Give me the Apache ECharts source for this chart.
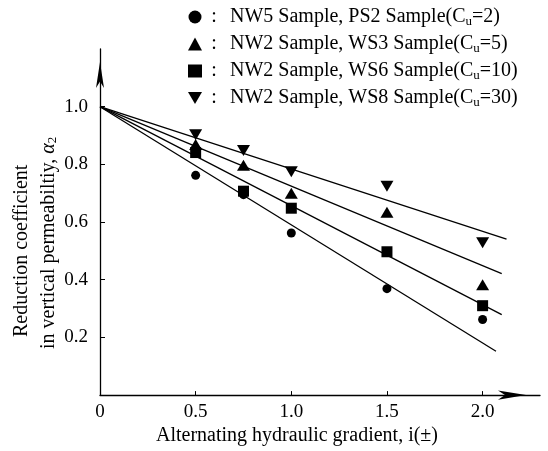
<!DOCTYPE html>
<html>
<head>
<meta charset="utf-8">
<script src="https://cdn.jsdelivr.net/npm/echarts@6/dist/echarts.min.js"></script>
<style>html,body{margin:0;padding:0;background:#fff}#c{width:548px;height:451px}</style>
</head>
<body>
<div id="c"></div>
<script>
// ---- data ----
var xTickValues = [0.5, 1.0, 1.5, 2.0];
var xLabelValues = [0, 0.5, 1.0, 1.5, 2.0];
var yTickValues = [0.2, 0.4, 0.6, 0.8, 1.0];

var seriesNames = ['NW5 Sample, PS2 Sample', 'NW2 Sample, WS3 Sample', 'NW2 Sample, WS6 Sample', 'NW2 Sample, WS8 Sample'];
var cuValues = [2, 5, 10, 30];

var gradient = [0.5, 0.75, 1.0, 1.5, 2.0];
var ps2 = [0.762, 0.695, 0.562, 0.369, 0.262];
var ws3 = [0.869, 0.797, 0.700, 0.634, 0.383];
var ws6 = [0.841, 0.707, 0.648, 0.497, 0.310];
var ws8 = [0.903, 0.848, 0.774, 0.724, 0.528];

// fitted straight lines: [start, end]
var fitPS2 = [[0, 1.0], [2.07, 0.152]];
var fitWS3 = [[0, 1.0], [2.10, 0.421]];
var fitWS6 = [[0, 1.0], [2.10, 0.279]];
var fitWS8 = [[0, 1.0], [2.125, 0.541]];

// ---- chart ----
var FONT = '"Liberation Serif", "DejaVu Serif", serif';
var INK = '#000';
function pairs(xs, ys) { return xs.map(function (x, i) { return [x, ys[i]]; }); }
function legendLabel(i) {
  return '{c|:}{t0|' + seriesNames[i] + '(C}{s|u}{t|=' + cuValues[i] + ')}';
}
var DOWN_TRI = 'path://M0,0L2,0L1,1.7Z';
var symbolDefs = [
  { symbol: 'circle', size: 9 },
  { symbol: 'triangle', size: [13, 11] },
  { symbol: 'rect', size: 11 },
  { symbol: DOWN_TRI, size: [13, 11] }
];
var values = [ps2, ws3, ws6, ws8];
var fits = [fitPS2, fitWS3, fitWS6, fitWS8];

var series = [];
fits.forEach(function (f, i) {
  series.push({
    type: 'line', name: 'fit' + i, data: f, symbol: 'none', silent: true,
    lineStyle: { color: INK, width: 1.3 }, z: 2
  });
});
values.forEach(function (v, i) {
  series.push({
    type: 'scatter', name: seriesNames[i], data: pairs(gradient, v),
    symbol: symbolDefs[i].symbol, symbolSize: symbolDefs[i].size,
    itemStyle: { color: INK, opacity: 1 }, z: 3
  });
});

var chart = echarts.init(document.getElementById('c'), null, { renderer: 'canvas' });
chart.setOption({
  animation: false,
  backgroundColor: '#fff',
  textStyle: { fontFamily: FONT, color: INK },
  grid: { left: 100, right: 8, top: 49, bottom: 54, containLabel: false },
  legend: {
    orient: 'vertical', left: 188, top: 6, padding: 0,
    itemWidth: 14, itemHeight: 13, itemGap: 5,
    data: seriesNames,
    formatter: function (name) { return legendLabel(seriesNames.indexOf(name)); },
    itemStyle: { opacity: 1 },
    textStyle: {
      fontFamily: FONT, color: INK, fontSize: 20, lineHeight: 22,
      rich: {
        c: { fontFamily: FONT, fontSize: 20, width: 14, align: 'center', color: INK },
        t0: { fontFamily: FONT, fontSize: 20, color: INK, padding: [0, 0, 0, 9] },
        t: { fontFamily: FONT, fontSize: 20, color: INK },
        s: { fontFamily: FONT, fontSize: 13, color: INK, verticalAlign: 'bottom', padding: [7, 0, 0, 0] }
      }
    },
    selectedMode: false
  },
  xAxis: {
    type: 'value', min: 0, max: 2.3,
    name: 'Alternating hydraulic gradient, i(±)',
    nameLocation: 'middle', nameGap: 25,
    nameTextStyle: { fontFamily: FONT, fontSize: 20, color: INK, padding: [0, 46, 0, 0] },
    axisLine: { show: true, lineStyle: { color: INK, width: 1.3 }, symbol: ['none', 'arrow'], symbolSize: [7, 28], symbolOffset: [0, -14] },
    axisTick: { show: true, inside: true, length: 4, customValues: xTickValues, lineStyle: { color: INK } },
    axisLabel: {
      customValues: xLabelValues, margin: 7, fontFamily: FONT, fontSize: 19, color: INK,
      formatter: function (v) { return v === 0 ? '0' : v.toFixed(1); }
    },
    splitLine: { show: false }
  },
  yAxis: {
    type: 'value', min: 0, max: 1.2,
    axisLine: { show: true, onZero: false, lineStyle: { color: INK, width: 1.3 }, symbol: ['none', 'arrow'], symbolSize: [6, 26], symbolOffset: [0, -13] },
    axisTick: { show: true, inside: true, length: 5, customValues: yTickValues, lineStyle: { color: INK } },
    axisLabel: {
      customValues: yTickValues, margin: 12, fontFamily: FONT, fontSize: 19, color: INK,
      formatter: function (v) { return v.toFixed(1); }
    },
    splitLine: { show: false }
  },
  graphic: [
    {
      type: 'text', x: 22, y: 337, rotation: Math.PI / 2,
      style: { text: 'Reduction coefficient', x: 0, y: 0, align: 'left', verticalAlign: 'middle', font: '20px ' + FONT, fill: INK }
    },
    {
      type: 'text', x: 49, y: 349, rotation: Math.PI / 2,
      style: {
        text: '{t|in vertical permeabiltiy, }{a|α}{s|2}', x: 0, y: 0, align: 'left', verticalAlign: 'middle',
        fill: INK,
        rich: {
          t: { fontFamily: FONT, fontSize: 20, fill: INK },
          a: { fontFamily: FONT, fontSize: 20, fontStyle: 'italic', fill: INK },
          s: { fontFamily: FONT, fontSize: 13, fill: INK, verticalAlign: 'bottom', padding: [7, 0, 0, 0] }
        }
      }
    }
  ],
  series: series
});
</script>
</body>
</html>
